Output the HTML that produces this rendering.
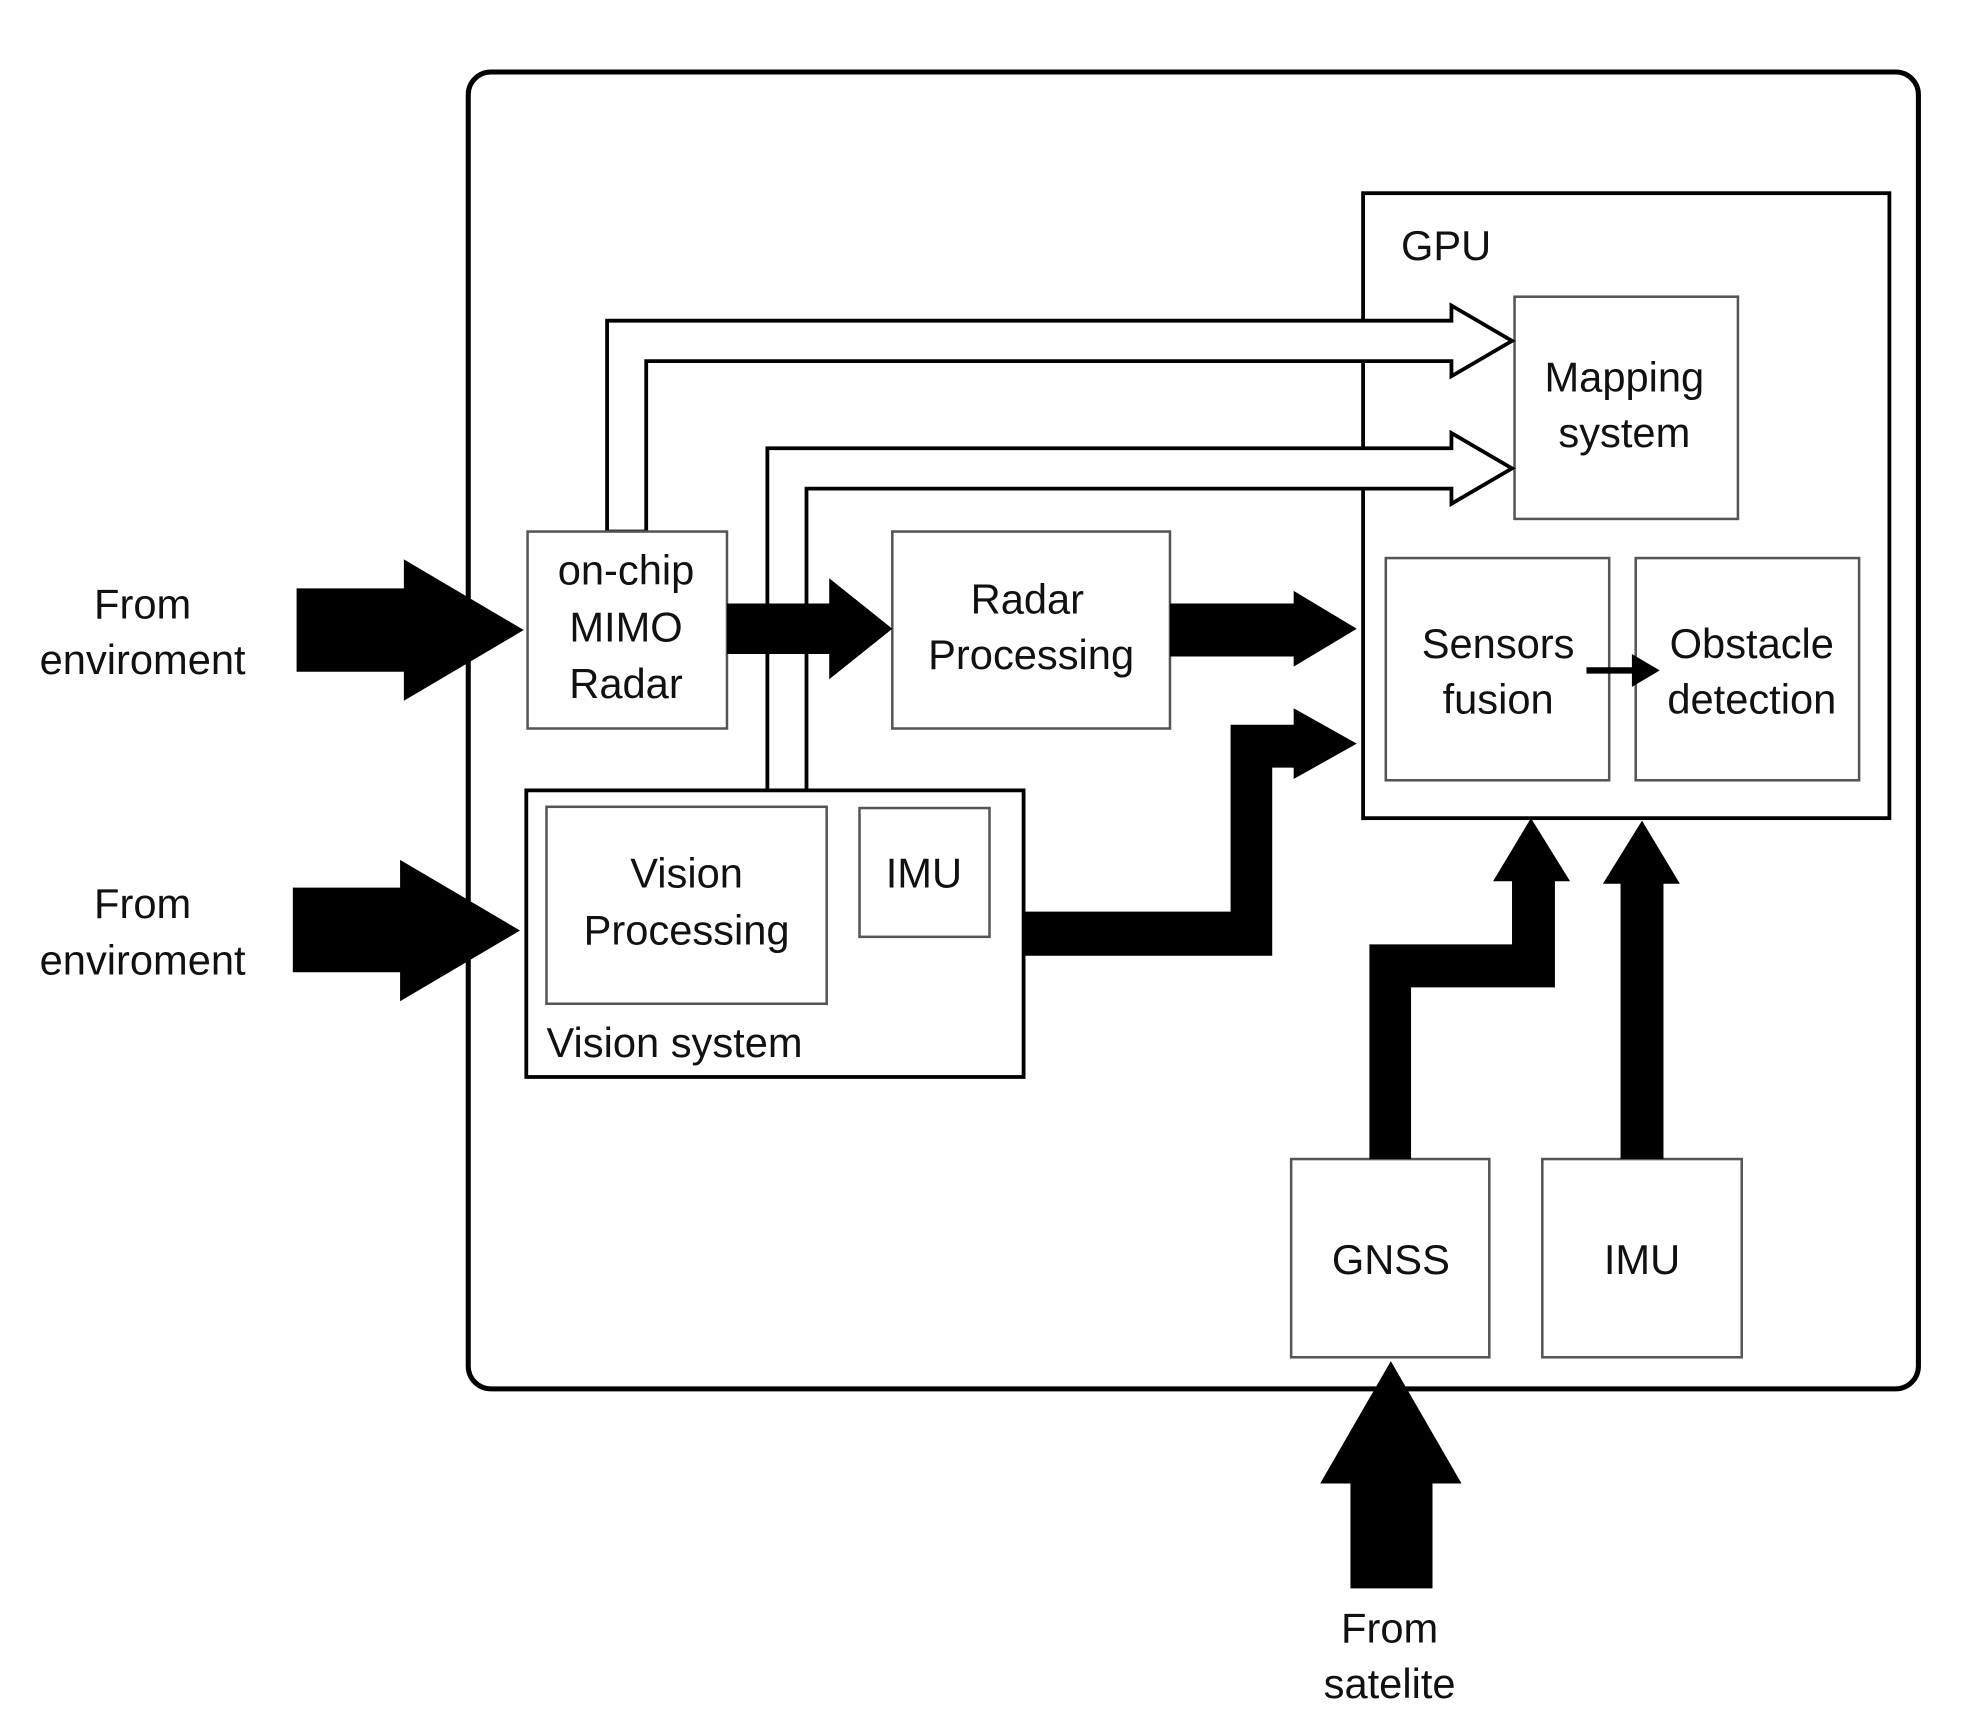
<!DOCTYPE html>
<html><head><meta charset="utf-8"><style>
html,body{margin:0;padding:0;background:#fff;}
svg{display:block;}
text{font-family:"Liberation Sans",sans-serif;font-size:33px;fill:#111;}
</style></head><body>
<svg width="1979" height="1731" viewBox="0 0 1568 1371" preserveAspectRatio="none" xmlns="http://www.w3.org/2000/svg">
<rect x="0" y="0" width="1568" height="1371" fill="#fff"/>
<rect x="371" y="57" width="1149" height="1043" rx="18" fill="none" stroke="#000" stroke-width="4"/>
<rect x="1080" y="153" width="417" height="495" fill="#fff" stroke="#000" stroke-width="3"/>
<text x="1110" y="206">GPU</text>
<rect x="1200" y="235" width="177" height="176" fill="#fff" stroke="#555" stroke-width="2"/>
<text x="1287" y="310" text-anchor="middle">Mapping</text>
<text x="1287" y="354" text-anchor="middle">system</text>
<rect x="1098" y="442" width="177" height="176" fill="#fff" stroke="#555" stroke-width="2"/>
<text x="1187" y="521" text-anchor="middle">Sensors</text>
<text x="1187" y="565" text-anchor="middle">fusion</text>
<rect x="1296" y="442" width="177" height="176" fill="#fff" stroke="#555" stroke-width="2"/>
<text x="1388" y="521" text-anchor="middle">Obstacle</text>
<text x="1388" y="565" text-anchor="middle">detection</text>
<line x1="1257" y1="531" x2="1296" y2="531" stroke="#000" stroke-width="5"/>
<polygon points="1293,518 1315,531 1293,544" fill="#000"/>
<polygon points="481,421 481,254 1150,254 1150,242 1198,270 1150,298 1150,286 512,286 512,421" fill="#fff" stroke="#000" stroke-width="3"/>
<polygon points="608,626 608,355 1150,355 1150,343 1198,371 1150,399 1150,387 639,387 639,626" fill="#fff" stroke="#000" stroke-width="3"/>
<rect x="418" y="421" width="158" height="156" fill="#fff" stroke="#555" stroke-width="2"/>
<text x="496" y="463" text-anchor="middle">on-chip</text>
<text x="496" y="508" text-anchor="middle">MIMO</text>
<text x="496" y="553" text-anchor="middle">Radar</text>
<rect x="707" y="421" width="220" height="156" fill="#fff" stroke="#555" stroke-width="2"/>
<text x="814" y="486" text-anchor="middle">Radar</text>
<text x="817" y="530" text-anchor="middle">Processing</text>
<rect x="417" y="626" width="394" height="227" fill="#fff" stroke="#000" stroke-width="3"/>
<rect x="433" y="639" width="222" height="156" fill="#fff" stroke="#555" stroke-width="2"/>
<text x="544" y="703" text-anchor="middle">Vision</text>
<text x="544" y="748" text-anchor="middle">Processing</text>
<rect x="681" y="640" width="103" height="102" fill="#fff" stroke="#555" stroke-width="2"/>
<text x="732" y="703" text-anchor="middle">IMU</text>
<text x="433" y="837">Vision system</text>
<rect x="1023" y="918" width="157" height="157" fill="#fff" stroke="#555" stroke-width="2"/>
<text x="1102" y="1009" text-anchor="middle">GNSS</text>
<rect x="1222" y="918" width="158" height="157" fill="#fff" stroke="#555" stroke-width="2"/>
<text x="1301" y="1009" text-anchor="middle">IMU</text>
<polygon points="235,466 320,466 320,443 415,499 320,555 320,532 235,532" fill="#000"/>
<polygon points="232,703 317,703 317,681 412,737 317,793 317,770 232,770" fill="#000"/>
<polygon points="576,478 657,478 657,458 707,498 657,538 657,518 576,518" fill="#000"/>
<polygon points="927,478 1025,478 1025,468 1075,498 1025,528 1025,520 927,520" fill="#000"/>
<polygon points="811,722 975,722 975,574 1025,574 1025,561 1075,589 1025,617 1025,608 1008,608 1008,757 811,757" fill="#000"/>
<polygon points="1085,918 1085,748 1198,748 1198,698 1183,698 1213,648 1244,698 1232,698 1232,782 1118,782 1118,918" fill="#000"/>
<polygon points="1284,918 1284,700 1270,700 1301,650 1331,700 1318,700 1318,918" fill="#000"/>
<polygon points="1070,1258 1070,1175 1046,1175 1102,1078 1158,1175 1135,1175 1135,1258" fill="#000"/>
<text x="113" y="490" text-anchor="middle">From</text>
<text x="113" y="534" text-anchor="middle">enviroment</text>
<text x="113" y="727" text-anchor="middle">From</text>
<text x="113" y="772" text-anchor="middle">enviroment</text>
<text x="1101" y="1301" text-anchor="middle">From</text>
<text x="1101" y="1345" text-anchor="middle">satelite</text>
</svg>
</body></html>
